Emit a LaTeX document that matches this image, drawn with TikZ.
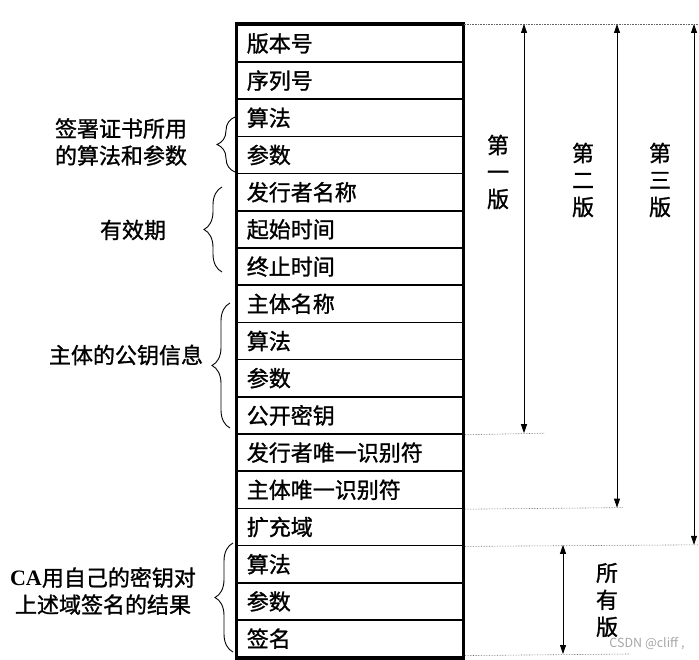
\documentclass[tikz,border=0pt]{standalone}
\usepackage{fontspec}
\setmainfont{Noto Sans CJK SC}[FakeBold=1.2]
\newfontfamily\wmfont{Noto Sans CJK SC}
\newfontfamily\serifcaf{Liberation Serif}
\usetikzlibrary{arrows.meta,decorations.pathreplacing}
\begin{document}
\begin{tikzpicture}[x=1pt,y=-1pt,
  row/.style={draw,line width=1.6pt,anchor=north west,minimum height=37.2pt,
    inner xsep=10pt,inner ysep=0pt,text width=206pt,align=left,
    font=\fontsize{22}{25}\selectfont},
  lbl/.style={align=center,font=\fontsize{22}{27}\selectfont},
  vlbl/.style={align=center,font=\fontsize{22}{27}\selectfont},
  dimarrows/.style={line width=0.8pt,{Triangle[length=9pt,width=6pt]}-{Triangle[length=9pt,width=6pt]}},
  guide/.style={densely dotted,line width=0.6pt,gray!80!black},
  brc/.style={decorate,decoration={brace,amplitude=18pt,aspect=0.5},line width=0.9pt}]
\useasboundingbox (0,0) rectangle (699,660);
\foreach \t [count=\i] in {版本号,序列号,算法,参数,发行者名称,起始时间,终止时间,主体名称,算法,参数,公开密钥,发行者唯一识别符,主体唯一识别符,扩充域,算法,参数,签名}{
  \node[row] (r\i) at (236,{24+(\i-1)*37.2}) {\t};
}
\draw[line width=3pt] (r1.north west) rectangle (r17.south east);
% guide lines
\coordinate (g0) at (699,24);
\coordinate (g1) at (545,433.2);
\coordinate (g2) at (623,507.6);
\coordinate (g3) at (699,544.8);
\coordinate (g4) at (630,654);
\draw[guide] (r1.north east) -- (g0);
\draw[guide] (r11.south east) -- (g1);
\draw[guide] (r13.south east) -- (g2);
\draw[guide] (r14.south east) -- (g3);
\draw[guide] (r17.south east) ++(0,-2.4) -- (g4);
% arrows
\coordinate (a1t) at (524,24); \coordinate (a1b) at (524,433.2);
\coordinate (a2t) at (617,24); \coordinate (a2b) at (617,507.6);
\coordinate (a3t) at (694,24); \coordinate (a3b) at (694,544.8);
\coordinate (a4t) at (563,544.8); \coordinate (a4b) at (563,654);
\draw[dimarrows] (a1t) -- (a1b);
\draw[dimarrows] (a2t) -- (a2b);
\draw[dimarrows] (a3t) -- (a3b);
\draw[dimarrows] (a4t) -- (a4b);
% vertical labels
\node[vlbl] (v1) at (498,172) {第\\一\\版};
\node[vlbl] (v2) at (583,180) {第\\二\\版};
\node[vlbl] (v3) at (660,180) {第\\三\\版};
\node[vlbl] (v4) at (607,600) {所\\有\\版};
% braces
\draw[brc] (235,172) -- (235,117);
\draw[brc] (222,272) -- (222,187);
\draw[brc] (230,428) -- (230,303);
\draw[brc] (233,652) -- (233,543);
% left labels
\node[lbl] (l1) at (121,142) {签署证书所用\\的算法和参数};
\node[lbl] (l2) at (133,230) {有效期};
\node[lbl] (l3) at (126,355) {主体的公钥信息};
\node[lbl] (l4) at (103,591) {{\serifcaf\bfseries CA}用自己的密钥对\\上述域签名的结果};
\node[text=gray!70,font=\wmfont\fontsize{12.5}{14}\selectfont] (wm) at (647,644) {CSDN @cliff ,};
\end{tikzpicture}
\end{document}
